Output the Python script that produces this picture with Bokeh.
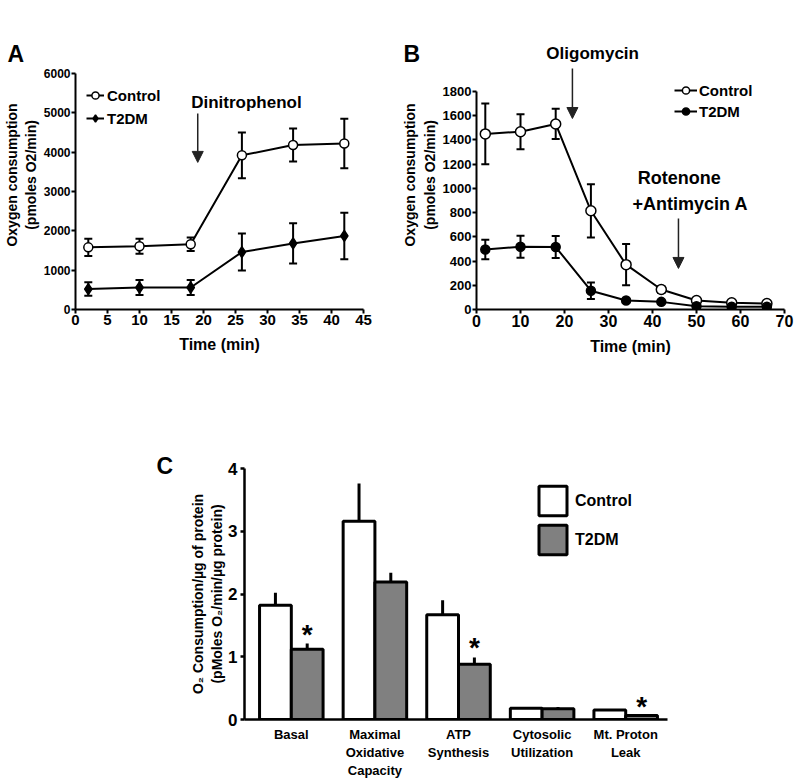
from bokeh.plotting import figure
from bokeh.models import (ColumnDataSource, Whisker, TeeHead, Arrow, NormalHead, Label,
                          Legend, LegendItem, FixedTicker, Range1d, Spacer)
from bokeh.layouts import column, row
from bokeh.embed import file_html
from bokeh.resources import INLINE
from bokeh.core.properties import value
import numpy as np

FONT = "Liberation Sans"

# ---------------- Panel A data ----------------
a_time = [2, 10, 18, 26, 34, 42]
a_ctrl = [1580, 1610, 1660, 3920, 4180, 4220]
a_ctrl_err = [220, 190, 170, 580, 420, 630]
a_t2dm = [520, 560, 560, 1460, 1680, 1870]
a_t2dm_err = [170, 190, 190, 470, 510, 590]
a_xticks = [0, 5, 10, 15, 20, 25, 30, 35, 40, 45]
a_yticks = [0, 1000, 2000, 3000, 4000, 5000, 6000]
a_ymax = 6000
a_drug = "Dinitrophenol"
a_drug_time = 19.1
a_arrow_from, a_arrow_to = 4980, 3740
a_text_x, a_text_y = 26.7, 5260

# ---------------- Panel B data ----------------
b_time = [2, 10, 18, 26, 34, 42, 50, 58, 66]
b_ctrl = [1450, 1468, 1532, 815, 370, 165, 74, 55, 50]
b_ctrl_err = [250, 145, 125, 220, 170, 28, 10, 8, 8]
b_t2dm = [495, 518, 516, 155, 74, 63, 27, 22, 22]
b_t2dm_err = [80, 90, 90, 68, 10, 10, 5, 5, 5]
b_xticks = [0, 10, 20, 30, 40, 50, 60, 70]
b_yticks = [0, 200, 400, 600, 800, 1000, 1200, 1400, 1600, 1800]
b_ymax = 1800
b_drug1 = "Oligomycin"
b_drug1_time = 21.8
b_drug1_from, b_drug1_to = 1990, 1577
b_drug1_text_x, b_drug1_text_y = 26.4, 2114
b_drug2_lines = ["Rotenone", "+Antimycin A"]
b_drug2_time = 45.9
b_drug2_from, b_drug2_to = 751, 339
b_drug2_text_x = [46.1, 48.6]
b_drug2_text_y = [1082, 867]

# ---------------- Panel C data ----------------
c_cats = ["Basal", "Maximal\nOxidative\nCapacity", "ATP\nSynthesis",
          "Cytosolic\nUtilization", "Mt. Proton\nLeak"]
c_ctrl = [1.82, 3.16, 1.67, 0.18, 0.15]
c_ctrl_err = [0.20, 0.60, 0.23, 0.0, 0.0]
c_t2dm = [1.12, 2.19, 0.88, 0.17, 0.065]
c_t2dm_err = [0.09, 0.15, 0.11, 0.03, 0.0]
c_sig = [True, False, True, False, True]
c_yticks = [0, 1, 2, 3, 4]


def style(p, xfs, yfs, lw=2):
    p.xgrid.visible = False
    p.ygrid.visible = False
    p.outline_line_color = None
    p.background_fill_color = "white"
    p.border_fill_color = "white"
    for ax in p.axis:
        ax.axis_line_width = lw
        ax.axis_line_color = "black"
        ax.major_tick_line_width = lw
        ax.major_tick_line_color = "black"
        ax.major_tick_out = 4
        ax.major_tick_in = 0
        ax.minor_tick_line_color = None
        ax.major_label_text_font = FONT
        ax.major_label_text_font_style = "bold"
        ax.major_label_text_color = "black"
        ax.axis_label_text_font = FONT
        ax.axis_label_text_font_style = "bold"
        ax.axis_label_text_color = "black"
    p.xaxis.major_label_text_font_size = xfs
    p.yaxis.major_label_text_font_size = yfs


def letter(p, offset, standoff):
    t = p.title
    t.align = "left"
    t.offset = offset
    t.standoff = standoff
    t.text_font = FONT
    t.text_font_style = "bold"
    t.text_font_size = "23px"
    t.text_color = "black"


def arrow(p, x, y0, y1):
    p.add_layout(Arrow(x_start=x, y_start=y0, x_end=x, y_end=y1, line_width=1.5,
                       line_color="#222222",
                       end=NormalHead(size=11, fill_color="#222222", line_color="#222222")))


def text_label(p, x, y, txt, size="17px"):
    p.add_layout(Label(x=x, y=y, text=txt, text_align="center", text_baseline="middle",
                       text_font=FONT, text_font_style="bold", text_font_size=size,
                       text_color="black"))


def series(p, t, v, e, marker, fill, msize):
    src = ColumnDataSource(dict(x=t, y=v, upper=[a + b for a, b in zip(v, e)],
                                lower=[a - b for a, b in zip(v, e)]))
    p.add_layout(Whisker(source=src, base="x", upper="upper", lower="lower",
                         line_width=2, line_color="black", level="underlay",
                         upper_head=TeeHead(size=8, line_width=2, line_color="black"),
                         lower_head=TeeHead(size=8, line_width=2, line_color="black")))
    ln = p.line("x", "y", source=src, line_width=2, line_color="black")
    sc = p.scatter("x", "y", source=src, marker=marker, size=msize, fill_color=fill,
                   line_color="black", line_width=1.5)
    return [ln, sc]


def legend(p, items, loc, gw, gh, sp, st, fs):
    p.add_layout(Legend(items=[LegendItem(label=k, renderers=r) for k, r in items],
                        location=loc, glyph_width=gw, glyph_height=gh, label_height=gh,
                        spacing=sp, padding=0, margin=0, label_standoff=st,
                        background_fill_alpha=0, border_line_color=None,
                        label_text_font=FONT, label_text_font_style="bold",
                        label_text_color="black", label_text_font_size=fs))


# shared vertical structure of the top row
TOP_B, FRAME_H, BOT_B = 40, 269, 59

# ---------------- Panel A ----------------
pA = figure(title="A", frame_width=288, frame_height=FRAME_H, x_range=Range1d(0, 45),
            y_range=Range1d(0, a_ymax * FRAME_H / 236),
            output_backend="svg", toolbar_location=None,
            min_border_left=68, min_border_right=36, min_border_top=TOP_B, min_border_bottom=BOT_B)
style(pA, "15px", "12px")
pA.xaxis.ticker = FixedTicker(ticks=a_xticks)
pA.yaxis.ticker = FixedTicker(ticks=a_yticks)
pA.yaxis.bounds = (0, a_ymax)
pA.xaxis.axis_label = "Time (min)"
pA.yaxis.axis_label = "Oxygen consumption\n(pmoles O2/min)"
pA.xaxis.axis_label_text_font_size = "16px"
pA.yaxis.axis_label_text_font_size = "14px"
pA.xaxis.major_label_standoff = 1
pA.yaxis.major_label_standoff = 1
pA.xaxis.axis_label_standoff = 8
pA.yaxis.axis_label_standoff = 2
rc = series(pA, a_time, a_ctrl, a_ctrl_err, "circle", "white", 9)
rt = series(pA, a_time, a_t2dm, a_t2dm_err, "diamond", "black", 11)
legend(pA, [("Control", rc), ("T2DM", rt)], (11, 181), 18, 20, 3, 3, "15px")
arrow(pA, a_drug_time, a_arrow_from, a_arrow_to)
text_label(pA, a_text_x, a_text_y, a_drug)
letter(pA, -68, -52)

# ---------------- Panel B ----------------
pB = figure(title="B", frame_width=308, frame_height=FRAME_H, x_range=Range1d(0, 70),
            y_range=Range1d(0, b_ymax * FRAME_H / 218),
            output_backend="svg", toolbar_location=None,
            min_border_left=74, min_border_right=10, min_border_top=TOP_B, min_border_bottom=BOT_B)
style(pB, "16px", "13px")
pB.xaxis.ticker = FixedTicker(ticks=b_xticks)
pB.yaxis.ticker = FixedTicker(ticks=b_yticks)
pB.yaxis.bounds = (0, b_ymax)
pB.xaxis.axis_label = "Time (min)"
pB.yaxis.axis_label = "Oxygen consumption\n(pmoles O2/min)"
pB.xaxis.axis_label_text_font_size = "16px"
pB.yaxis.axis_label_text_font_size = "14px"
pB.xaxis.major_label_standoff = 1
pB.yaxis.major_label_standoff = 1
pB.xaxis.axis_label_standoff = 8
pB.yaxis.axis_label_standoff = 2
rc = series(pB, b_time, b_ctrl, b_ctrl_err, "circle", "white", 10)
rt = series(pB, b_time, b_t2dm, b_t2dm_err, "circle", "black", 9)
legend(pB, [("Control", rc), ("T2DM", rt)], (198, 189), 23, 18, 3, 2, "15px")
arrow(pB, b_drug1_time, b_drug1_from, b_drug1_to)
text_label(pB, b_drug1_text_x, b_drug1_text_y, b_drug1)
arrow(pB, b_drug2_time, b_drug2_from, b_drug2_to)
for tx, ty, tt in zip(b_drug2_text_x, b_drug2_text_y, b_drug2_lines):
    text_label(pB, tx, ty, tt, "18px")
letter(pB, -73, -52)

# ---------------- Panel C ----------------
n = len(c_cats)
xpos = np.arange(1, n + 1)
off, bw = 0.19, 0.38
xc = xpos - off
xt = xpos + off
pC = figure(title="C", frame_width=423, frame_height=251, x_range=Range1d(0.44, 5.5),
            y_range=Range1d(0, 4),
            output_backend="svg", toolbar_location=None,
            min_border_left=102, min_border_right=117, min_border_top=100, min_border_bottom=58)
style(pC, "13px", "17px", lw=2.5)
pC.xaxis.ticker = FixedTicker(ticks=list(xpos))
pC.xaxis.major_label_overrides = {int(k): c for k, c in zip(xpos, c_cats)}
pC.xaxis.major_tick_line_color = None
pC.xaxis.major_tick_out = 0
pC.xaxis.major_label_standoff = 7
pC.yaxis.ticker = FixedTicker(ticks=c_yticks)
pC.yaxis.major_label_standoff = 3
pC.yaxis.axis_label = "O\u2082 Consumption/\u00b5g of protein\n(pMoles O\u2082/min/\u00b5g protein)"
pC.yaxis.axis_label_text_font_size = "14px"
pC.yaxis.axis_label_standoff = 0
ctrl = np.array(c_ctrl)
t2dm = np.array(c_t2dm)
pC.segment(x0=xc, y0=ctrl, x1=xc, y1=ctrl + np.array(c_ctrl_err), line_width=3, line_color="black")
pC.segment(x0=xt, y0=t2dm, x1=xt, y1=t2dm + np.array(c_t2dm_err), line_width=3, line_color="black")
bc = pC.vbar(x=xc, top=ctrl, width=bw, fill_color="white", line_color="black", line_width=3)
bt = pC.vbar(x=xt, top=t2dm, width=bw, fill_color="#808080", line_color="black", line_width=3)
sig = np.array(c_sig)
pC.text(x=xt[sig], y=(t2dm + np.array(c_t2dm_err))[sig] + 0.15, text=["*"] * int(sig.sum()),
        text_align="center", text_baseline="middle", text_font=value(FONT),
        text_font_style="bold", text_font_size="28px", text_color="black")
legend(pC, [("Control", [bc]), ("T2DM", [bt])], (291, 161), 35, 37, 2, 5, "16px")
letter(pC, -88, -20)

layout = column(row(pA, pB), row(Spacer(width=142, height=10), pC))
open("out.html", "w").write(file_html(layout, INLINE))
